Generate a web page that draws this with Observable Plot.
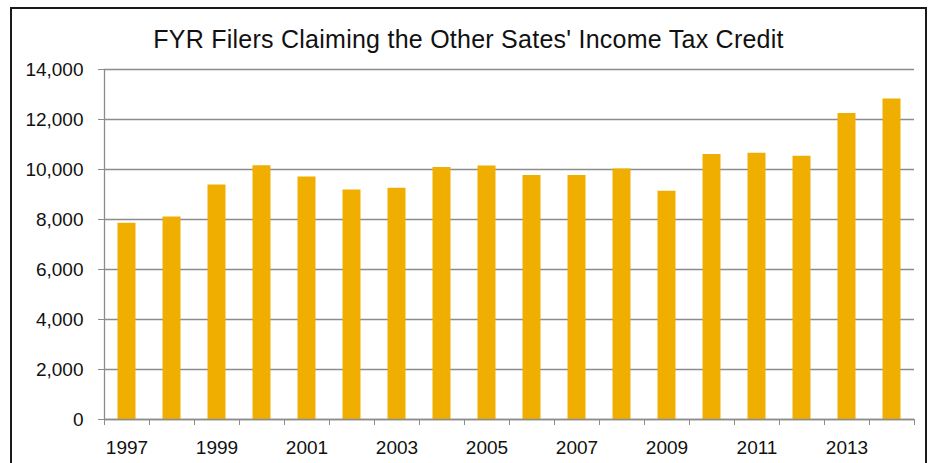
<!DOCTYPE html>
<html>
<head>
<meta charset="utf-8">
<script src="https://cdn.jsdelivr.net/npm/d3@7"></script>
<script src="https://cdn.jsdelivr.net/npm/@observablehq/plot@0.6"></script>
<style>
  html, body { margin: 0; padding: 0; background: #fff; }
  body { width: 928px; height: 463px; overflow: hidden; position: relative; font-family: "Liberation Sans", Arial, sans-serif; }
  #frame { position: absolute; left: 10px; top: 7px; width: 917px; height: 520px; box-sizing: border-box; border: 2px solid #1a1a1a; pointer-events: none; }
  #title { height: 33px; padding-top: 27px; line-height: 24px; font-size: 25px; letter-spacing: 0.25px; color: #111; text-align: center; width: 917px; margin-left: 10px; white-space: nowrap; }
  #chart svg { display: block; }
  #chart svg text { font-size: 19px; font-family: "Liberation Sans", Arial, sans-serif; }
</style>
</head>
<body>
<div id="title">FYR Filers Claiming the Other Sates' Income Tax Credit</div>
<div id="chart"></div>
<div id="frame"></div>
<script>
const years = [1997, 1998, 1999, 2000, 2001, 2002, 2003, 2004, 2005, 2006, 2007, 2008, 2009, 2010, 2011, 2012, 2013, 2014];
const filers = [7850, 8100, 9380, 10150, 9700, 9180, 9250, 10080, 10140, 9760, 9760, 10020, 9130, 10600, 10650, 10530, 12240, 12820];
const yTicks = [0, 2000, 4000, 6000, 8000, 10000, 12000, 14000];
const xLabels = [1997, 1999, 2001, 2003, 2005, 2007, 2009, 2011, 2013];

const data = years.map((year, i) => ({year, filers: filers[i]}));

const width = 928, height = 403;
const marginLeft = 104, marginRight = 14, marginTop = 9, marginBottom = 44;
const step = (width - marginLeft - marginRight) / years.length;
const gray = "#8c8c8c";

const chart = Plot.plot({
  width, height, marginTop, marginBottom, marginLeft, marginRight,
  style: {fontFamily: "'Liberation Sans', Arial, sans-serif", fontSize: "19px", color: "#111", background: "white", overflow: "visible"},
  x: {type: "band", domain: years, padding: 0, axis: null, label: null},
  y: {domain: [0, 14000], axis: null, label: null},
  marks: [
    Plot.gridY(yTicks, {stroke: gray, strokeOpacity: 1, strokeWidth: 1.3}),
    Plot.barY(data, {x: "year", y: "filers", fill: "#F0AE00", insetLeft: 13.5, insetRight: 13.5}),
    Plot.ruleY([0], {stroke: gray, strokeWidth: 1.3}),
    Plot.ruleX([years[0]], {y1: 0, y2: 14000, dx: -step / 2, stroke: gray, strokeWidth: 1.3}),
    Plot.axisY(yTicks, {tickSize: 6, tickPadding: 15, stroke: gray, fill: "#111", fontSize: 19, tickFormat: d3.format(","), label: null}),
    Plot.axisX(years, {tickSize: 6, tickFormat: () => "", dx: -step / 2, stroke: gray, label: null}),
    Plot.axisX([years[years.length - 1]], {tickSize: 6, tickFormat: () => "", dx: step / 2, stroke: gray, label: null}),
    Plot.axisX(xLabels, {tickSize: 0, tickPadding: 21, fill: "#111", fontSize: 19, tickFormat: d => String(d), label: null})
  ]
});
document.getElementById("chart").append(chart);
</script>
</body>
</html>
